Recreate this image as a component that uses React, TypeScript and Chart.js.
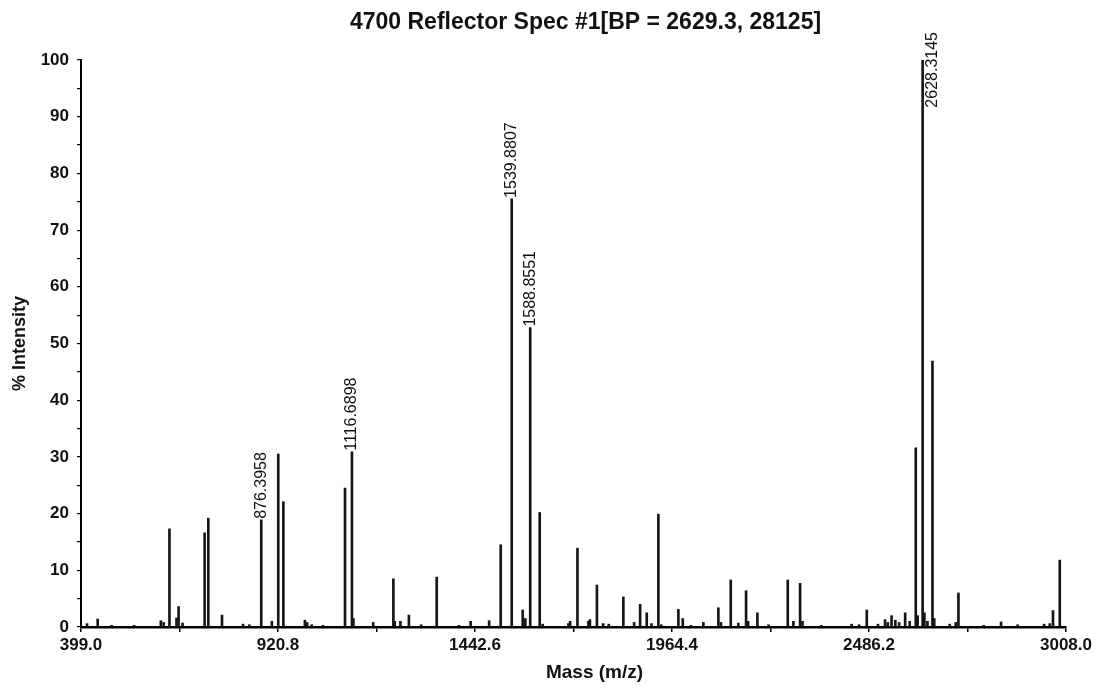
import React, { useEffect, useRef } from "react";
import { Chart, registerables } from "chart.js";

Chart.register(...registerables);

const TITLE = "4700 Reflector Spec #1[BP = 2629.3, 28125]";
const X_TITLE = "Mass (m/z)";
const Y_TITLE = "% Intensity";

const xTickValues = [399.0, 920.8, 1442.6, 1964.4, 2486.2, 3008.0];
const xTickLabels = ["399.0", "920.8", "1442.6", "1964.4", "2486.2", "3008.0"];

const peakMz = [
  415.0, 443.2, 480.0, 540.0, 610.5, 618.0, 633.3, 652.0, 657.5, 668.0,
  726.4, 736.2, 772.5, 828.0, 845.0, 876.3958, 904.5, 921.5, 935.0, 992.0,
  998.0, 1010.0, 1040.0, 1098.3, 1116.6898, 1120.5, 1173.0, 1226.4, 1230.0, 1245.0,
  1267.5, 1300.0, 1341.2, 1400.0, 1431.0, 1480.0, 1510.7, 1539.8807, 1569.0, 1576.0,
  1588.8551, 1614.0, 1622.0, 1690.0, 1694.5, 1714.0, 1743.0, 1747.0, 1765.5, 1782.0,
  1797.0, 1835.5, 1864.0, 1880.0, 1897.5, 1910.0, 1928.3, 1936.0, 1981.3, 1992.9,
  2015.0, 2047.5, 2087.2, 2094.0, 2120.0, 2140.0, 2160.6, 2166.0, 2190.6, 2220.0,
  2271.0, 2286.0, 2303.7, 2310.0, 2360.0, 2440.0, 2460.0, 2480.3, 2510.0, 2528.8,
  2536.0, 2546.0, 2556.0, 2566.0, 2582.0, 2594.0, 2610.1, 2615.0, 2628.3145, 2633.0,
  2641.0, 2654.3, 2659.0, 2700.0, 2716.0, 2723.1, 2790.0, 2836.0, 2880.0, 2950.0,
  2965.0, 2973.5, 2991.5,
];

const peakIntensity = [
  0.6, 1.4, 0.3, 0.3, 1.1, 0.8, 17.3, 1.6, 3.6, 0.7,
  16.6, 19.2, 2.1, 0.5, 0.4, 18.9, 1.0, 30.5, 22.1, 1.2,
  0.8, 0.4, 0.3, 24.5, 30.9, 1.5, 0.8, 8.5, 1.0, 1.0,
  2.1, 0.4, 8.8, 0.3, 1.0, 1.1, 14.5, 75.5, 3.0, 1.5,
  52.8, 20.2, 0.5, 0.6, 1.0, 13.9, 1.0, 1.3, 7.4, 0.6,
  0.5, 5.3, 0.8, 4.0, 2.5, 0.6, 19.9, 0.4, 3.1, 1.5,
  0.3, 0.8, 3.4, 0.8, 8.3, 0.7, 6.4, 1.0, 2.5, 0.4,
  8.3, 1.0, 7.7, 1.0, 0.3, 0.5, 0.4, 3.0, 0.5, 1.3,
  0.8, 2.0, 1.2, 0.8, 2.5, 1.0, 31.6, 2.0, 100, 2.5,
  1.0, 46.9, 1.5, 0.5, 0.8, 6.0, 0.3, 0.9, 0.4, 0.5,
  0.6, 2.9, 11.8,
];

const labeledMz = [876.3958, 1116.6898, 1539.8807, 1588.8551, 2628.3145];

const FONT = '"Liberation Sans", Arial, Helvetica, sans-serif';

const textPlugin = {
  id: "specText",
  afterDatasetsDraw(chart: any) {
    const { ctx, chartArea } = chart;
    const meta = chart.getDatasetMeta(0);
    ctx.save();
    ctx.fillStyle = "#111";
    ctx.font = `16px ${FONT}`;
    ctx.textBaseline = "middle";
    ctx.textAlign = "left";
    labeledMz.forEach((mz) => {
      const i = peakMz.indexOf(mz);
      const el = meta.data[i];
      if (!el) return;
      const text = mz.toFixed(4);
      const w = ctx.measureText(text).width;
      let x = el.x;
      let y = el.y - 1;
      if (y - w < 25) {
        x += 10;
        y = 32 + w;
      }
      ctx.save();
      ctx.translate(x, y);
      ctx.rotate(-Math.PI / 2);
      ctx.fillText(text, 0, 0);
      ctx.restore();
    });
    const cx = (chartArea.left + chartArea.right) / 2;
    ctx.textAlign = "center";
    ctx.font = `bold 23px ${FONT}`;
    ctx.fillText(TITLE, cx + 12, 23);
    ctx.font = `bold 19px ${FONT}`;
    ctx.fillText(X_TITLE, cx + 21, 673);
    ctx.restore();
  },
};

export default function App() {
  const ref = useRef<HTMLCanvasElement | null>(null);

  useEffect(() => {
    if (!ref.current) return;
    const data = peakMz.map((x, i) => ({ x, y: peakIntensity[i] }));
    const minorTicks: number[] = [];
    xTickValues.forEach((v, i) => {
      minorTicks.push(v);
      if (i < xTickValues.length - 1) minorTicks.push((v + xTickValues[i + 1]) / 2);
    });
    const chart = new Chart(ref.current, {
      type: "bar",
      data: {
        datasets: [
          {
            data: data as any,
            backgroundColor: "#161616",
            borderWidth: 0,
            barThickness: 2,
          },
        ],
      },
      plugins: [textPlugin],
      options: {
        animation: false,
        responsive: false,
        devicePixelRatio: 1,
        layout: { padding: { left: 0, right: 34, top: 60, bottom: 0 } },
        plugins: {
          legend: { display: false },
          tooltip: { enabled: false },
          title: { display: false },
        },
        scales: {
          x: {
            type: "linear",
            min: 399,
            max: 3008,
            offset: false,
            afterBuildTicks: (scale: any) => {
              scale.ticks = minorTicks.map((v) => ({ value: v }));
            },
            afterFit: (scale: any) => {
              scale.height = 60;
            },
            ticks: {
              autoSkip: false,
              maxRotation: 0,
              padding: 3,
              color: "#111",
              font: { family: FONT, size: 17, weight: "bold" },
              callback: (value: any) => {
                const idx = xTickValues.indexOf(Number(value));
                return idx >= 0 ? xTickLabels[idx] : "";
              },
            },
            grid: {
              display: true,
              drawOnChartArea: false,
              drawTicks: true,
              tickLength: 5,
              color: "#000",
              lineWidth: 1.5,
              offset: false,
            },
            border: { display: true, color: "#000", width: 2.5 },
          },
          y: {
            type: "linear",
            min: 0,
            max: 100,
            afterFit: (scale: any) => {
              scale.width = 81;
            },
            ticks: {
              stepSize: 5,
              padding: 8,
              color: "#111",
              font: { family: FONT, size: 17, weight: "bold" },
              callback: (value: any) => (Number(value) % 10 === 0 ? String(value) : ""),
            },
            grid: {
              display: true,
              drawOnChartArea: false,
              drawTicks: true,
              tickLength: 4,
              color: "#000",
              lineWidth: 1.2,
            },
            border: { display: true, color: "#000", width: 2 },
            title: {
              display: true,
              text: Y_TITLE,
              color: "#111",
              font: { family: FONT, size: 18, weight: "bold" },
              padding: { top: 9, bottom: 0 },
            },
          },
        },
      } as any,
    });
    return () => chart.destroy();
  }, []);

  return (
    <div style={{ position: "absolute", left: 0, top: 0, width: 1100, height: 687, background: "#fff" }}>
      <canvas ref={ref} width={1100} height={687} />
    </div>
  );
}
